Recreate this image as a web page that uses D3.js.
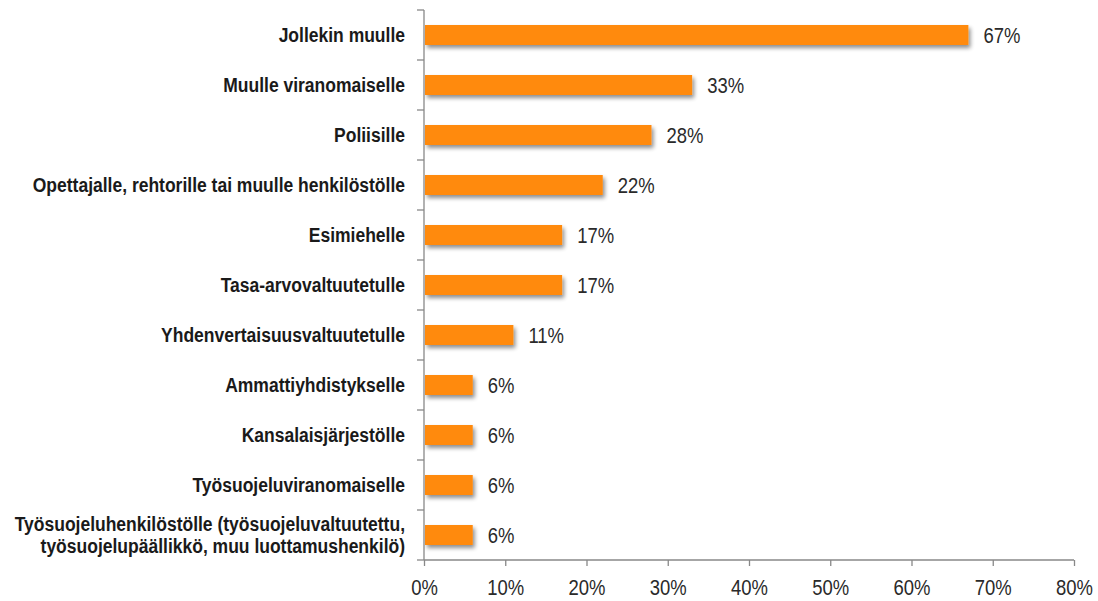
<!DOCTYPE html>
<html><head><meta charset="utf-8">
<script src="https://cdn.jsdelivr.net/npm/d3@7"></script>
<style>
body{margin:0;background:#fff;}
svg{display:block;}
.cat{font-family:"Liberation Sans",Arial,sans-serif;font-weight:bold;font-size:20px;fill:#1a1a1a;}
.val,.tick text{font-family:"Liberation Sans",Arial,sans-serif;font-size:22px;fill:#2a2a2a;}
</style></head>
<body>
<svg id="c" width="1098" height="601"></svg>
<script>
const categories = [
  "Jollekin muulle",
  "Muulle viranomaiselle",
  "Poliisille",
  "Opettajalle, rehtorille tai muulle henkilöstölle",
  "Esimiehelle",
  "Tasa-arvovaltuutetulle",
  "Yhdenvertaisuusvaltuutetulle",
  "Ammattiyhdistykselle",
  "Kansalaisjärjestölle",
  "Työsuojeluviranomaiselle",
  "Työsuojeluhenkilöstölle (työsuojeluvaltuutettu,\ntyösuojelupäällikkö, muu luottamushenkilö)"
];
const values = [67, 33, 28, 22, 17, 17, 11, 6, 6, 6, 6];
const tickValues = [0, 10, 20, 30, 40, 50, 60, 70, 80];
const tickLabels = ["0%","10%","20%","30%","40%","50%","60%","70%","80%"];

(function(){
const svg = d3.select("#c");
const pL = 424, pR = 1074, pT = 10, pB = 560;
const catScale = 0.875, numScale = 0.84;
const x = d3.scaleLinear().domain([0, 80]).range([pL, pR]);
const y = d3.scaleBand().domain(categories).range([pT, pB]).paddingInner(0.6).paddingOuter(0.3);

const defs = svg.append("defs");
const f = defs.append("filter").attr("id","sh").attr("x","-10%").attr("y","-50%").attr("width","130%").attr("height","250%");
f.append("feGaussianBlur").attr("in","SourceAlpha").attr("stdDeviation",2);
f.append("feOffset").attr("dx",2).attr("dy",3).attr("result","ob");
f.append("feComponentTransfer").append("feFuncA").attr("type","linear").attr("slope",0.45);
const m = f.append("feMerge"); m.append("feMergeNode"); m.append("feMergeNode").attr("in","SourceGraphic");

svg.append("g").selectAll("rect").data(values).join("rect")
  .attr("x", x(0)+1)
  .attr("y", (d,i)=>y(categories[i]))
  .attr("width", d=>x(d)-x(0)-1)
  .attr("height", y.bandwidth())
  .attr("fill", "#FF8A10")
  .attr("filter","url(#sh)");

svg.append("g").selectAll("text").data(values).join("text")
  .attr("class","val")
  .attr("transform", (d,i)=>`translate(${x(d)+15},${y(categories[i])+y.bandwidth()/2}) scale(${numScale},1)`)
  .attr("dy","0.36em")
  .text(d=>d+"%");

const step = (pB-pT)/categories.length;
const ax = svg.append("g");
ax.append("line").attr("x1",pL).attr("x2",pL).attr("y1",pT).attr("y2",pB).attr("stroke","#888").attr("stroke-width",1.3);
ax.selectAll("line.t").data(d3.range(categories.length+1)).join("line").attr("class","t")
  .attr("x1",pL-7).attr("x2",pL).attr("y1",i=>pT+i*step).attr("y2",i=>pT+i*step)
  .attr("stroke","#888").attr("stroke-width",1.3);

const cl = svg.append("g").selectAll("text").data(categories).join("text")
  .attr("class","cat")
  .attr("text-anchor","end")
  .attr("transform", d=>`translate(${pL-19},${y(d)+y.bandwidth()/2}) scale(${catScale},1)`);
cl.each(function(d){
  const lines = d.split("\n");
  const t = d3.select(this);
  const lh = 23;
  lines.forEach((ln,k)=>{
    t.append("tspan").attr("x",0)
      .attr("y", 7 - (lines.length-1)*lh/2 + k*lh)
      .text(ln);
  });
});

const xa = d3.axisBottom(x).tickValues(tickValues).tickFormat((d,i)=>tickLabels[i]).tickSize(6).tickPadding(12);
const g = svg.append("g").attr("transform",`translate(0,${pB})`).call(xa);
g.select(".domain").attr("stroke","#888").attr("stroke-width",1.3).attr("d",`M${pL},0H${pR}`);
g.selectAll(".tick line").attr("stroke","#888").attr("stroke-width",1.3);
g.selectAll(".tick text").attr("font-family",null).attr("font-size",null).attr("fill","#2a2a2a")
  .attr("y",0).attr("dy",0).attr("transform",`translate(0,35) scale(${numScale},1)`);
})();
</script>
</body></html>
